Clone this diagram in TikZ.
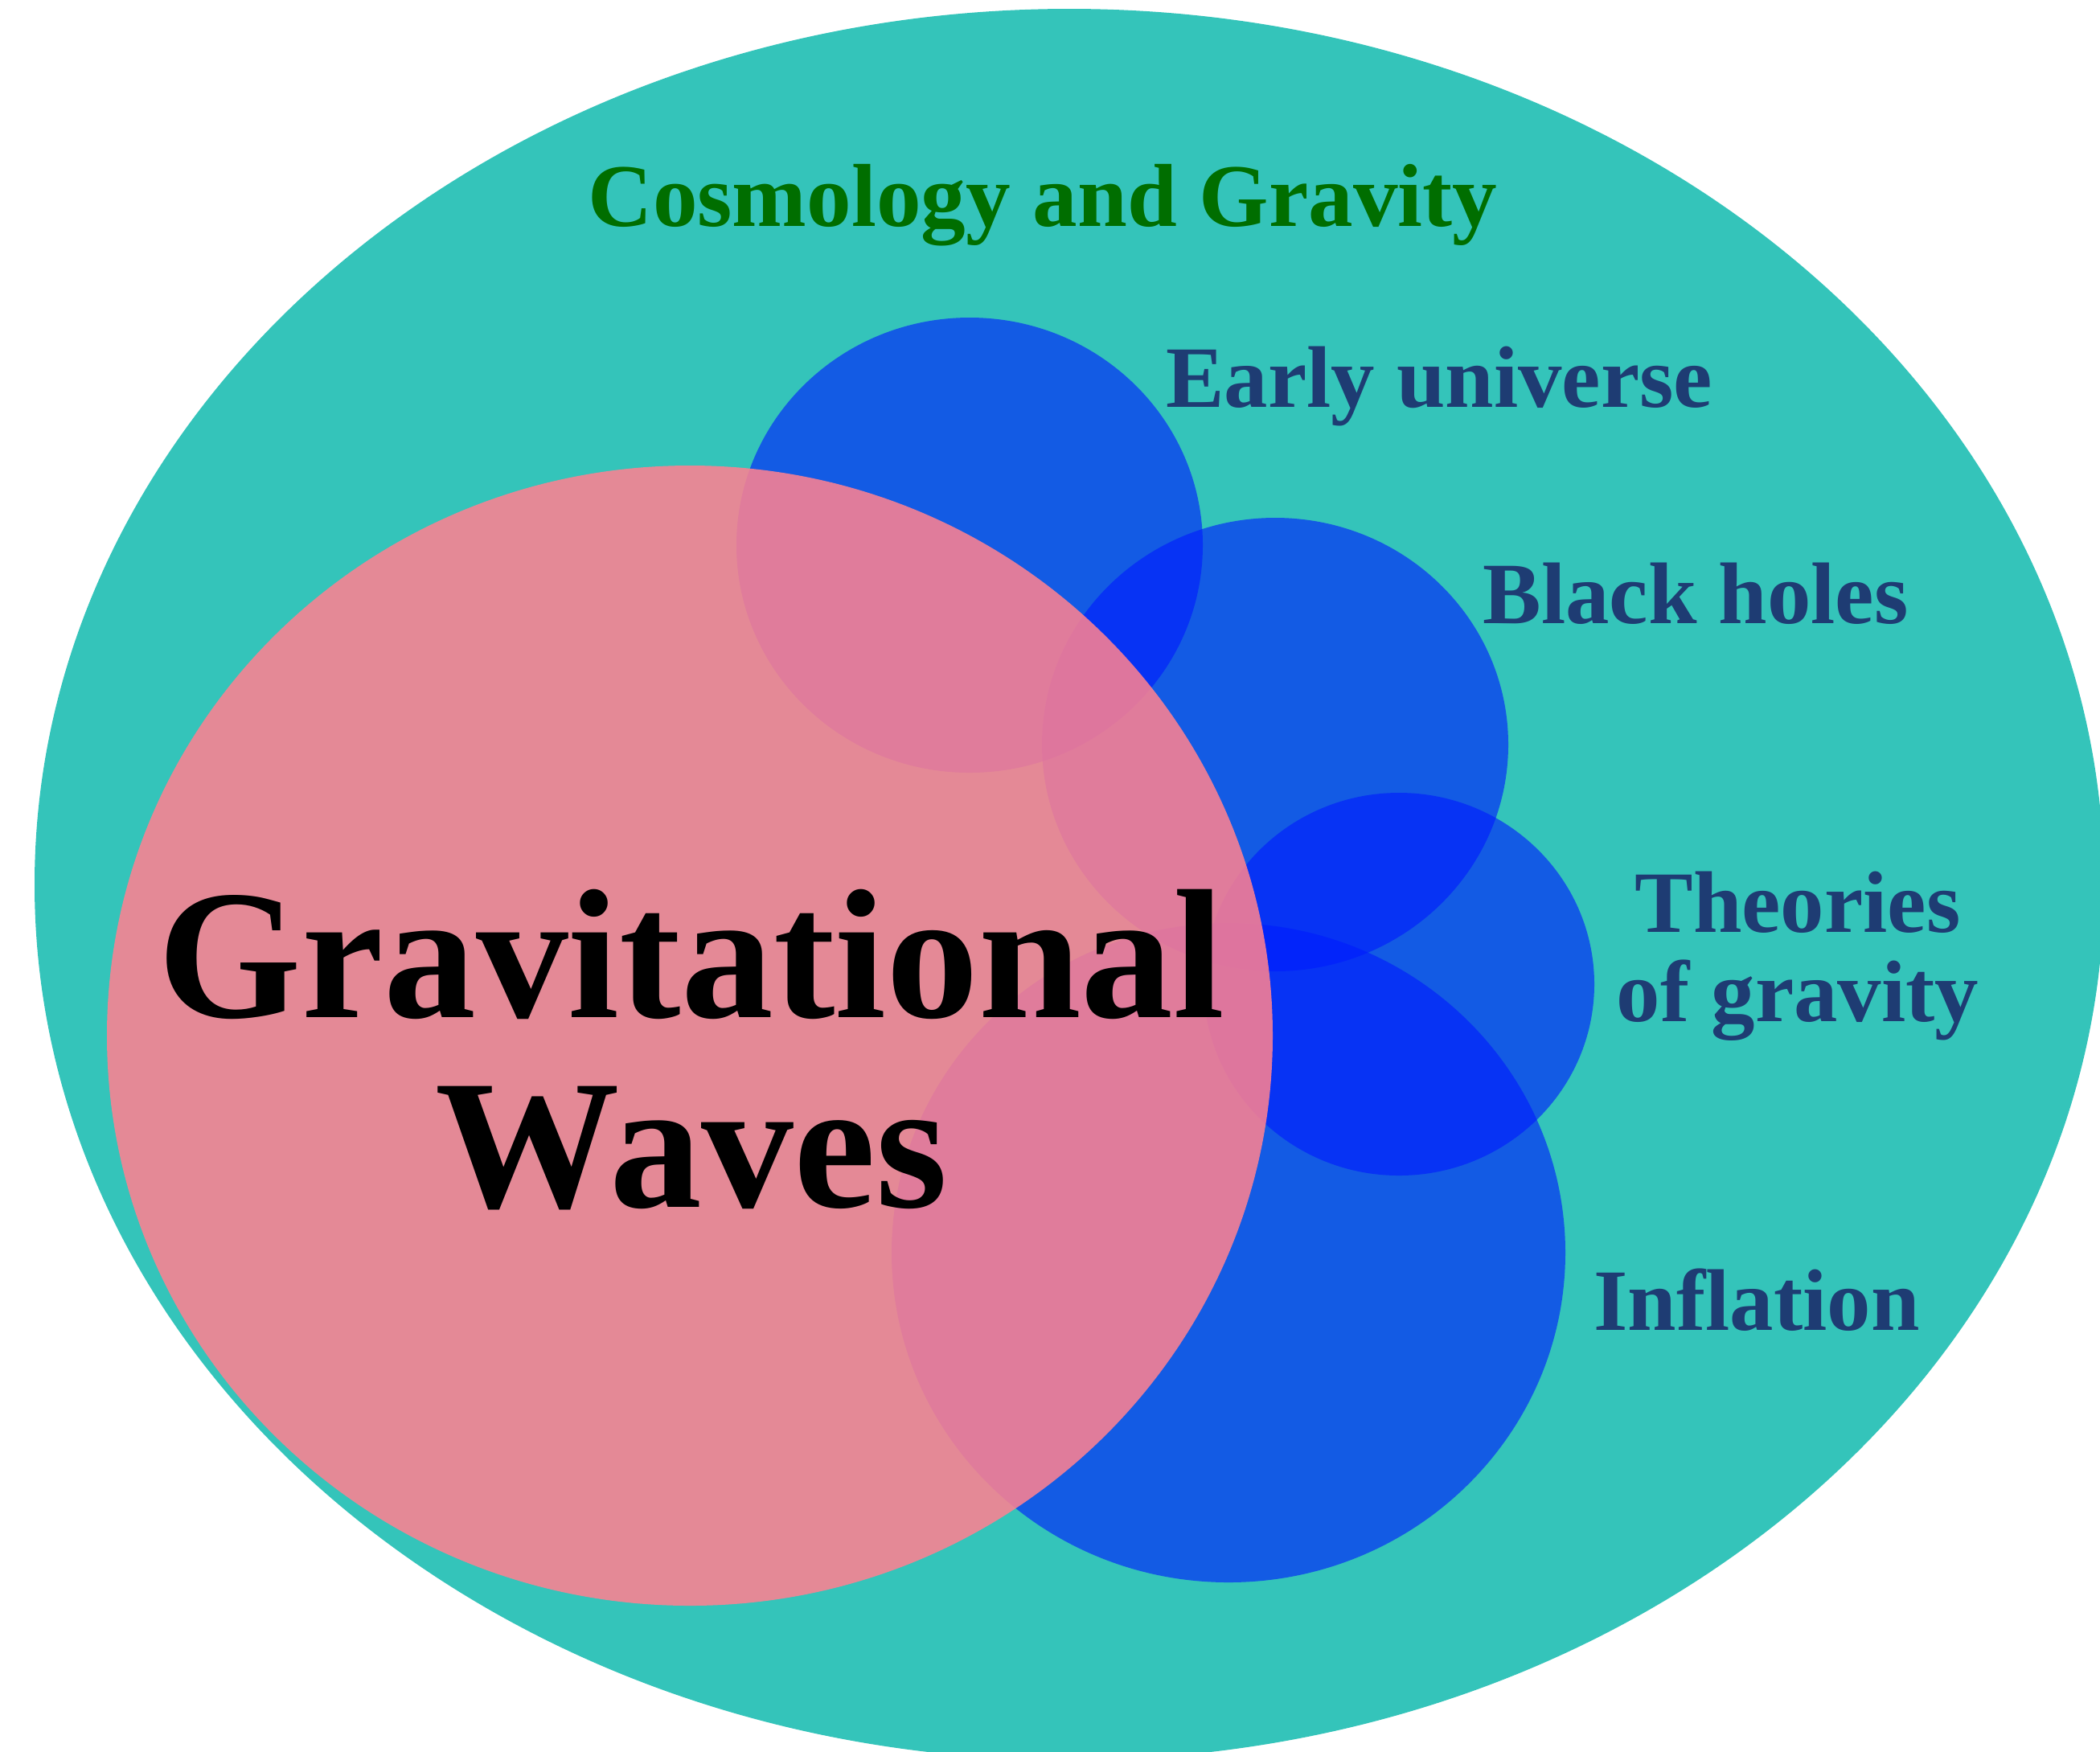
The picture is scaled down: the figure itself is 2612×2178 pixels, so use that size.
\documentclass[tikz,border=0pt]{standalone}
\usepackage{fontspec}
\setmainfont{Liberation Serif}
\definecolor{tealbg}{RGB}{52,196,186}
\definecolor{bluec}{RGB}{0,27,255}
\definecolor{pinkc}{RGB}{255,129,145}
\definecolor{greentxt}{RGB}{0,110,0}
\definecolor{navytxt}{RGB}{30,60,115}
\begin{document}
\begin{tikzpicture}[x=0.25pt,y=-0.25pt,
  bluedisc/.style={fill=bluec, fill opacity=0.62},
  pinkdisc/.style={fill=pinkc, fill opacity=0.87},
  label/.style={inner sep=0pt, anchor=base, text=navytxt, font=\fontsize{27.2}{27.75}\selectfont\bfseries, align=center},
  title/.style={inner sep=0pt, anchor=base, text=greentxt, font=\fontsize{27.8}{30}\selectfont\bfseries},
  big/.style={inner sep=0pt, anchor=base, text=black, font=\fontsize{57.4}{59}\selectfont\bfseries, align=center}]
\useasboundingbox (0,0) rectangle (2612,2178);
\clip (0,0) rectangle (2612,2178);
% outer set
\fill[tealbg] (1330,1100) ellipse [x radius=1287, y radius=1089];
% blue sets
\fill[bluedisc] (1206,678) ellipse [x radius=290, y radius=283];
\fill[bluedisc] (1586,926) ellipse [x radius=290, y radius=282];
\fill[bluedisc] (1740,1224) ellipse [x radius=243, y radius=238];
\fill[bluedisc] (1528,1558) ellipse [x radius=419, y radius=410];
% gravitational waves set
\fill[pinkdisc] (858,1288) ellipse [x radius=725, y radius=709];
% texts (multi-line nodes: base anchor is on the last line)
\node[title] (cg) at (1297,281) {Cosmology and Gravity};
\node[label] (eu) at (1790,506) {Early universe};
\node[label] (bh) at (2109,775) {Black holes};
\node[label] (tg) at (2236,1270) {Theories\\of gravity};
\node[label] (inf) at (2185,1654) {Inflation};
\node[big] (gw) at (860,1501) {Gravitational\\Waves};
\end{tikzpicture}
\end{document}
